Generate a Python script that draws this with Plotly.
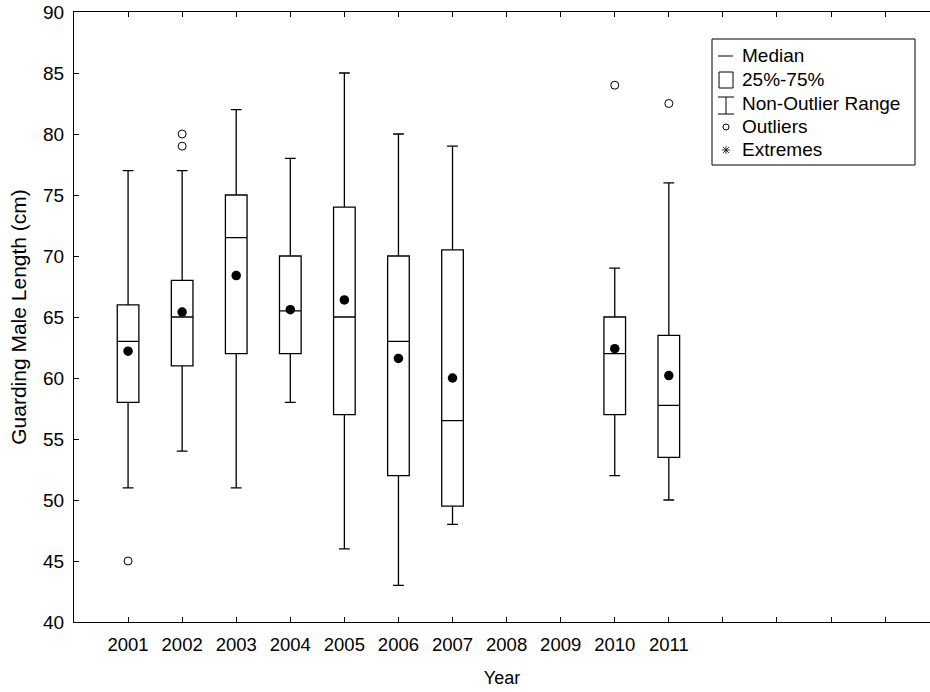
import plotly.graph_objects as go

# ---- data ----
year_labels = ["2001", "2002", "2003", "2004", "2005", "2006", "2007", "2008", "2009", "2010", "2011", "", "", "", ""]
box_years = [2001, 2002, 2003, 2004, 2005, 2006, 2007, 2010, 2011]
q1 = [58, 61, 62, 62, 57, 52, 49.5, 57, 53.5]
median = [63, 65, 71.5, 65.5, 65, 63, 56.5, 62, 57.75]
q3 = [66, 68, 75, 70, 74, 70, 70.5, 65, 63.5]
whisker_low = [51, 54, 51, 58, 46, 43, 48, 52, 50]
whisker_high = [77, 77, 82, 78, 85, 80, 79, 69, 76]
means = [62.2, 65.4, 68.4, 65.6, 66.4, 61.6, 60.0, 62.4, 60.2]
outlier_years = [2001, 2002, 2002, 2010, 2011]
outlier_values = [45, 80, 79, 84, 82.5]

first_year = 2000
pos = [y - first_year for y in box_years]
opos = [y - first_year for y in outlier_years]
tick_pos = list(range(1, len(year_labels) + 1))

FONT = "Arial, 'Liberation Sans', sans-serif"

fig = go.Figure()
fig.add_trace(go.Box(
    x=pos, q1=q1, median=median, q3=q3,
    lowerfence=whisker_low, upperfence=whisker_high,
    width=0.4, whiskerwidth=0.5,
    fillcolor="white", line=dict(color="black", width=1.3),
    boxpoints=False, showlegend=False, hoverinfo="skip",
))
fig.add_trace(go.Scatter(
    x=pos, y=means, mode="markers",
    marker=dict(symbol="circle", size=9.5, color="black"),
    showlegend=False, hoverinfo="skip",
))
fig.add_trace(go.Scatter(
    x=opos, y=outlier_values, mode="markers",
    marker=dict(symbol="circle-open", size=8, color="black", line=dict(width=1)),
    showlegend=False, hoverinfo="skip",
))

# ---- custom legend (paper coords from pixel positions) ----
W, H = 930, 692
L, R, T, B = 74, 0, 12, 70
pw, ph = W - L - R, H - T - B

def px(x):
    return (x - L) / pw

def py(y):
    return (H - B - y) / ph

shapes = []
shapes.append(dict(type="rect", xref="paper", yref="paper",
                   x0=px(712), x1=px(915), y0=py(39), y1=py(165),
                   line=dict(color="black", width=1), fillcolor="white", layer="above"))
# median glyph
shapes.append(dict(type="line", xref="paper", yref="paper",
                   x0=px(718), x1=px(733), y0=py(56), y1=py(56),
                   line=dict(color="black", width=1)))
# box glyph
shapes.append(dict(type="rect", xref="paper", yref="paper",
                   x0=px(719), x1=px(733), y0=py(72), y1=py(88),
                   line=dict(color="black", width=1)))
# whisker glyph
for yy in (97, 114):
    shapes.append(dict(type="line", xref="paper", yref="paper",
                       x0=px(718), x1=px(734), y0=py(yy), y1=py(yy),
                       line=dict(color="black", width=1)))
shapes.append(dict(type="line", xref="paper", yref="paper",
                   x0=px(726), x1=px(726), y0=py(97), y1=py(114),
                   line=dict(color="black", width=1)))
# outlier glyph
shapes.append(dict(type="circle", xref="paper", yref="paper",
                   x0=px(723), x1=px(729), y0=py(124), y1=py(130),
                   line=dict(color="black", width=1)))
# extremes glyph (asterisk)
cx, cy, r = 726, 150, 4
for dx, dy in ((r, 0), (0, r), (r * 0.75, r * 0.75), (r * 0.75, -r * 0.75)):
    shapes.append(dict(type="line", xref="paper", yref="paper",
                       x0=px(cx - dx), x1=px(cx + dx), y0=py(cy - dy), y1=py(cy + dy),
                       line=dict(color="black", width=0.8)))

legend_texts = ["Median", "25%-75%", "Non-Outlier Range", "Outliers", "Extremes"]
legend_y = [56, 80, 103, 127, 150]
annotations = []
for t, yy in zip(legend_texts, legend_y):
    annotations.append(dict(text=t, xref="paper", yref="paper", x=px(740), y=py(yy),
                            xanchor="left", yanchor="middle", showarrow=False,
                            font=dict(family=FONT, size=19, color="black")))

fig.update_layout(
    width=W, height=H,
    margin=dict(l=L, r=R, t=T, b=B, autoexpand=False),
    paper_bgcolor="white", plot_bgcolor="white",
    font=dict(family=FONT, size=18.5, color="black"),
    shapes=shapes, annotations=annotations,
    xaxis=dict(
        range=[0, 15.83], tickmode="array", tickvals=tick_pos, ticktext=year_labels,
        ticks="inside", ticklen=5, tickcolor="black", tickwidth=1,
        showline=True, linecolor="black", linewidth=1, mirror="ticks",
        showgrid=False, zeroline=False, automargin=False,
        tickfont=dict(size=18.5), ticklabelstandoff=6,
        title=dict(text="Year", font=dict(size=18), standoff=17),
    ),
    yaxis=dict(
        range=[40, 90], tickmode="linear", tick0=40, dtick=5,
        ticks="inside", ticklen=5, tickcolor="black", tickwidth=1,
        showline=True, linecolor="black", linewidth=1,
        showgrid=False, zeroline=False, automargin=False,
        tickfont=dict(size=19), ticklabelstandoff=5,
        title=dict(text="Guarding Male Length (cm)", font=dict(size=21), standoff=10),
    ),
)

fig.write_html(
    "out.html",
    config={"responsive": False, "displayModeBar": False},
    post_script="document.body.style.margin='0px';document.body.style.padding='0px';document.body.style.overflow='hidden';",
)
